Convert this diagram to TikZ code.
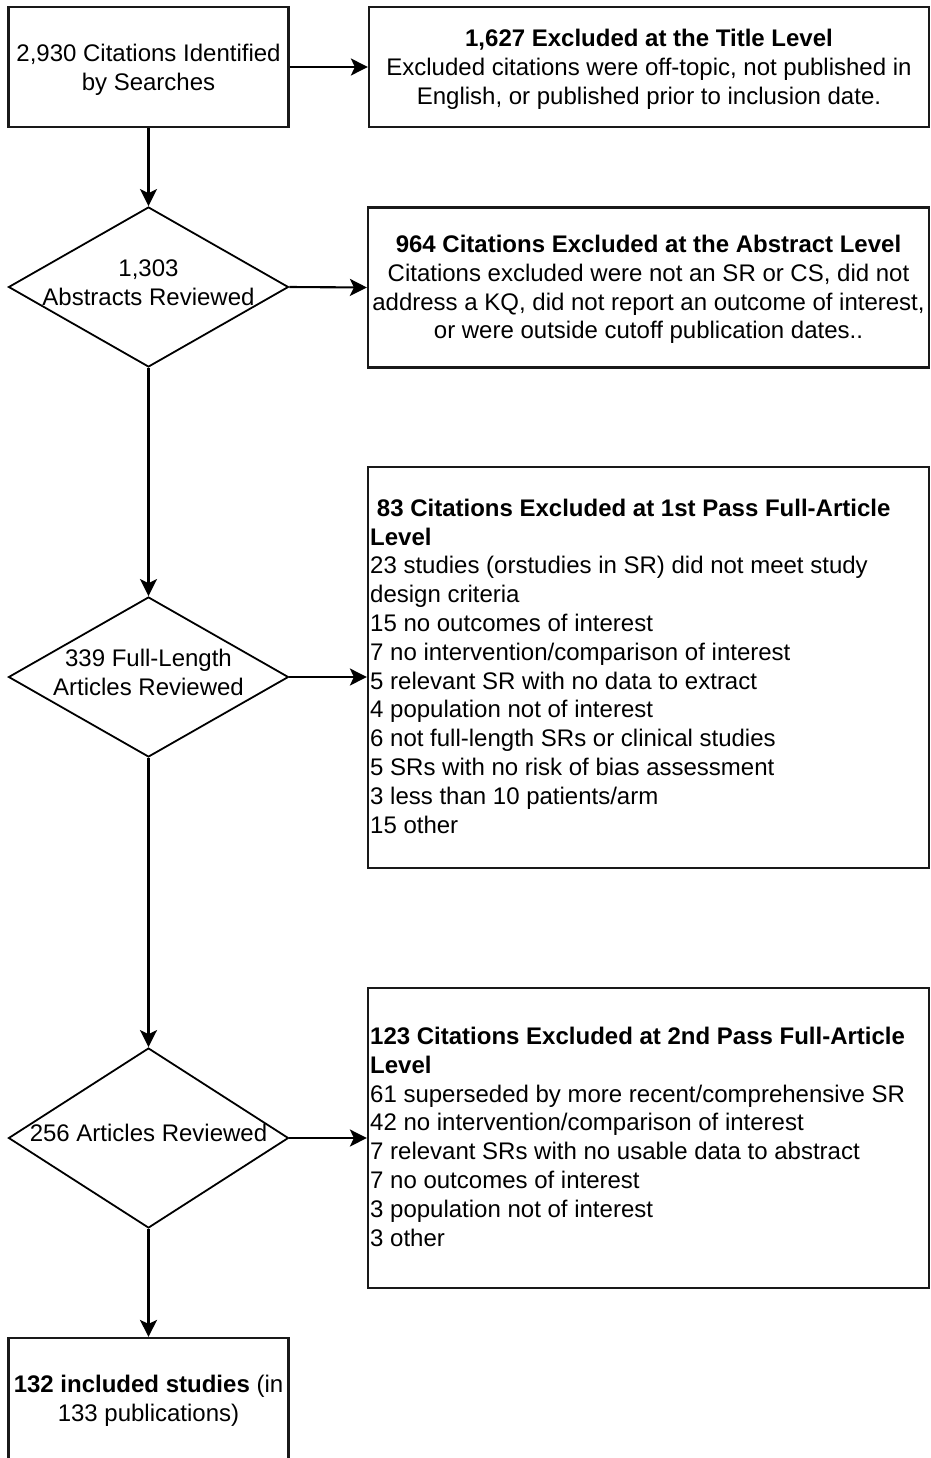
\documentclass[tikz,border=0pt]{standalone}
\usepackage{fontspec}
\setmainfont{Liberation Sans}
\usetikzlibrary{shapes.geometric,arrows.meta}
\begin{document}
\begin{tikzpicture}[x=1pt,y=-1pt,
  every node/.style={font=\fontsize{24}{28.8}\selectfont, inner sep=0pt},
  box/.style={draw=black!90, line width=2.2pt, rectangle},
  dia/.style={draw=black, line width=1.8pt, diamond, minimum width=280pt},
  txt/.style={align=center},
  ltxt/.style={align=left, anchor=west},
  conn/.style={line width=2.1pt, -{Stealth[length=17pt,width=17pt,inset=4pt]}}
]
\useasboundingbox (0,0) rectangle (930,1458);

% left column
\node[box, minimum width=280pt, minimum height=120pt] (b1) at (148.5,67) {};
\node[txt] (t0) at (148.5,70) {\strut 2,930 Citations Identified\\by Searches\strut};
\node[dia, minimum height=160pt] (d1) at (148.5,287) {};
\node[txt] (t1) at (148.5,285) {\strut 1,303\\Abstracts Reviewed\strut};
\node[dia, minimum height=160pt] (d2) at (148.5,677) {};
\node[txt] (t2) at (148.5,675.5) {\strut 339 Full-Length\\Articles Reviewed\strut};
\node[dia, minimum height=180pt] (d3) at (148.5,1138) {};
\node[txt] (t3) at (148.5,1136) {\strut 256 Articles Reviewed\strut};
\node[box, minimum width=280pt, minimum height=124pt] (b6) at (148.5,1400) {};
\node[txt] (t6) at (148.5,1401.5)
  {\strut\textbf{132 included studies} (in\\133 publications)\strut};

% right column
\node[box, minimum width=560pt, minimum height=120pt] (b2) at (649,67) {};
\node[txt] (tb2) at (649,70)
  {\strut\textbf{1,627 Excluded at the Title Level}\\
   Excluded citations were off-topic, not published in\\
   English, or published prior to inclusion date.\strut};
\node[box, minimum width=561pt, minimum height=160pt] (b3) at (648.5,287.5) {};
\node[txt] (tb3) at (648.5,290)
  {\strut\textbf{964 Citations Excluded at the Abstract Level}\\
   Citations excluded were not an SR or CS, did not\\
   address a KQ, did not report an outcome of interest,\\
   or were outside cutoff publication dates..\strut};
\node[box, minimum width=561pt, minimum height=401pt] (b4) at (648.5,667.5) {};
\node[ltxt] (t4) at (370,669)
  {\strut\hspace*{0.28em}\textbf{83 Citations Excluded at 1st Pass Full-Article}\\
   \textbf{Level}\\
   23 studies (orstudies in SR) did not meet study\\
   design criteria\\
   15 no outcomes of interest\\
   7 no intervention/comparison of interest\\
   5 relevant SR with no data to extract\\
   4 population not of interest\\
   6 not full-length SRs or clinical studies\\
   5 SRs with no risk of bias assessment\\
   3 less than 10 patients/arm\\
   15 other\strut};
\node[box, minimum width=561pt, minimum height=300pt] (b5) at (648.5,1138) {};
\node[ltxt] (t5) at (370,1139.5)
  {\strut\textbf{123 Citations Excluded at 2nd Pass Full-Article}\\
   \textbf{Level}\\
   61 superseded by more recent/comprehensive SR\\
   42 no intervention/comparison of interest\\
   7 relevant SRs with no usable data to abstract\\
   7 no outcomes of interest\\
   3 population not of interest\\
   3 other\strut};

% connectors
\draw[conn] (b1.south) -- (d1.north);
\draw[conn] (d1.south) -- (d2.north);
\draw[conn] (d2.south) -- (d3.north);
\draw[conn] (d3.south) -- (b6.north);
\draw[conn] (b1.east) -- (b2.west);
\draw[conn] (d1.east) -- (b3.west);
\draw[conn] (d2.east) -- (b4.west |- d2.east);
\draw[conn] (d3.east) -- (b5.west |- d3.east);
\end{tikzpicture}
\end{document}
